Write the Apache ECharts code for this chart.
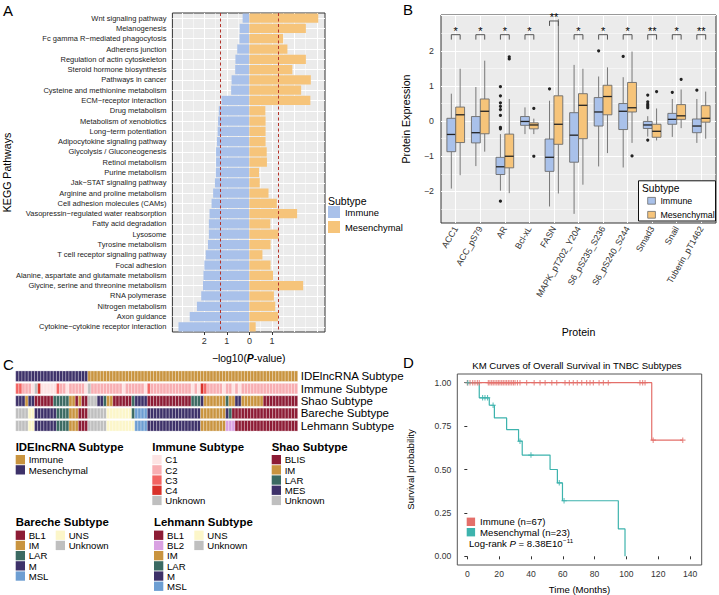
<!DOCTYPE html>
<html><head><meta charset="utf-8">
<script src="https://cdn.jsdelivr.net/npm/echarts@6/dist/echarts.min.js"></script>
<style>html,body{margin:0;padding:0;background:#fff}#c{width:719px;height:595px}</style>
</head><body><div id="c"></div><script>
const FF = '"Liberation Sans", Arial, Helvetica, sans-serif';

// ---------- Panel A data ----------
const keggPathways = ['Wnt signaling pathway','Melanogenesis','Fc gamma R\u2212mediated phagocytosis','Adherens junction','Regulation of actin cytoskeleton','Steroid hormone biosynthesis','Pathways in cancer','Cysteine and methionine metabolism','ECM\u2212receptor interaction','Drug metabolism','Metabolism of xenobiotics','Long\u2212term potentiation','Adipocytokine signaling pathway','Glycolysis / Gluconeogenesis','Retinol metabolism','Purine metabolism','Jak\u2212STAT signaling pathway','Arginine and proline metabolism','Cell adhesion molecules (CAMs)','Vasopressin\u2212regulated water reabsorption','Fatty acid degradation','Lysosome','Tyrosine metabolism','T cell receptor signaling pathway','Focal adhesion','Alanine, aspartate and glutamate metabolism','Glycine, serine and threonine metabolism','RNA polymerase','Nitrogen metabolism','Axon guidance','Cytokine\u2212cytokine receptor interaction'];
const keggImmune = [0.30,0.43,0.44,0.54,0.62,0.63,0.79,0.81,1.24,1.36,1.39,1.41,1.44,1.48,1.48,1.49,1.53,1.61,1.68,1.77,1.80,1.80,1.84,1.94,2.00,2.04,2.06,2.14,2.33,2.65,3.15];
const keggMesenchymal = [3.06,2.51,1.50,1.69,2.51,1.91,2.73,2.30,2.71,0.71,0.72,0.72,0.72,0.77,0.78,0.43,0.46,0.85,1.22,2.12,0.93,1.30,0.94,0.58,0.94,1.05,2.39,1.09,1.15,1.27,0.28];
const pCutoff = 1.301;
const keggTickLabels = [-2,-1,0,1];

// ---------- Panel B data ----------
const proteins = ['ACC1','ACC_pS79','AR','Bcl-xL','FASN','MAPK_pT202_Y204','S6_pS235_S236','S6_pS240_S244','Smad3','Snail','Tuberin_pT1462'];
// [min, Q1, median, Q3, max]
const boxImmune = [
 [-1.92,-0.87,-0.38,0.08,0.78],
 [-1.28,-0.62,-0.33,0.13,0.97],
 [-1.98,-1.52,-1.30,-1.03,-0.37],
 [-0.37,-0.12,-0.01,0.13,0.39],
 [-2.43,-1.43,-1.03,-0.51,0.58],
 [-2.64,-1.17,-0.40,0.24,1.60],
 [-1.29,-0.14,0.26,0.67,1.27],
 [-1.32,-0.24,0.28,0.50,1.25],
 [-0.44,-0.21,-0.11,-0.01,0.14],
 [-0.45,-0.09,0.05,0.22,0.63],
 [-0.62,-0.33,-0.14,0.06,0.63]];
const boxMesenchymal = [
 [-1.54,-0.61,0.18,0.40,1.49],
 [-0.87,-0.36,0.28,0.63,1.72],
 [-2.05,-1.33,-1.00,-0.37,0.63],
 [-0.37,-0.22,-0.11,-0.05,0.07],
 [-2.06,-0.66,-0.09,0.72,2.90],
 [-1.81,-0.50,0.45,0.78,1.49],
 [-0.91,0.18,0.70,1.02,1.53],
 [-0.62,0.26,0.38,1.10,1.98],
 [-0.55,-0.46,-0.29,-0.09,0.36],
 [-0.20,0.05,0.15,0.47,0.90],
 [-0.50,-0.03,0.08,0.44,0.84]];
const outlierImmune = [[2,0.98],[2,0.72],[2,0.52],[2,0.42],[2,0.33],[2,0.16],[2,-0.18],[2,-0.22],[2,-2.28],[4,0.92],[6,2.0],[7,1.84],[8,0.74],[8,0.55],[8,0.48],[8,0.43],[8,0.38],[8,-0.54],[9,0.82],[10,0.88]];
const outlierMesenchymal = [[2,1.83],[2,1.77],[3,0.36],[3,-1.0],[7,-0.99],[8,0.84],[9,1.19]];
const sigLabels = ['*','*','*','*','**','*','*','*','**','*','**'];
const bracketLevel = [2.46,2.46,2.46,2.46,2.85,2.46,2.46,2.46,2.46,2.46,2.46];
const proteinTickLabels = [-2,-1,0,1,2];

// ---------- Panel C data ----------
const heatRows = ['IDElncRNA Subtype','Immune Subtype','Shao Subtype','Bareche Subtype','Lehmann Subtype'];
const ideSubtype = [
'Mes','Mes','Mes','Mes','Mes','Mes','Mes','Mes','Mes','Mes',
'Mes','Mes','Mes','Mes','Mes','Mes','Mes','Mes','Mes','Mes',
'Mes','Mes','Mes','Imm','Imm','Imm','Imm','Imm','Imm','Imm',
'Imm','Imm','Imm','Imm','Imm','Imm','Imm','Imm','Imm','Imm',
'Imm','Imm','Imm','Imm','Imm','Imm','Imm','Imm','Imm','Imm',
'Imm','Imm','Imm','Imm','Imm','Imm','Imm','Imm','Imm','Imm',
'Imm','Imm','Imm','Imm','Imm','Imm','Imm','Imm','Imm','Imm',
'Imm','Imm','Imm','Imm','Imm','Imm','Imm','Imm','Imm','Imm',
'Imm','Imm','Imm','Imm','Imm','Imm','Imm','Imm','Imm','Imm'];
const immuneSubtype = [
'C3','C3','C2','C2','C2','C1','Unk','C4','C1','C1',
'C1','C1','C1','C3','C2','C2','C1','C2','C2','C2',
'C2','C2','C1','Unk','C2','C2','C2','C2','C2','C2',
'C2','C2','C2','C2','C1','C2','C2','C2','C2','C2',
'C2','C1','C3','C2','C2','C2','C2','C2','C2','C2',
'C2','C2','C2','C2','C2','C2','C1','C2','C1','C4',
'C3','C2','C2','C2','C2','C2','C1','C2','C2','C1',
'C2','C1','C2','C2','C2','C2','C2','C2','C2','C2',
'C2','C2','C2','C2','C2','C2','C2','C2','C2','C2'];
const shaoSubtype = [
'MES','MES','MES','IM','MES','MES','BLIS','BLIS','BLIS','BLIS',
'BLIS','BLIS','LAR','LAR','LAR','LAR','LAR','IM','IM','BLIS',
'IM','BLIS','BLIS','Unk','Unk','Unk','MES','MES','LAR','IM',
'IM','BLIS','BLIS','BLIS','BLIS','BLIS','BLIS','LAR','MES','MES',
'MES','MES','BLIS','BLIS','BLIS','BLIS','BLIS','BLIS','BLIS','BLIS',
'BLIS','BLIS','BLIS','BLIS','BLIS','BLIS','LAR','LAR','LAR','MES',
'IM','IM','IM','IM','IM','IM','IM','LAR','IM','IM',
'MES','MES','IM','IM','IM','IM','IM','IM','IM','BLIS',
'BLIS','BLIS','BLIS','BLIS','BLIS','BLIS','BLIS','BLIS','BLIS','BLIS'];
const barecheSubtype = [
'Unk','Unk','Unk','Unk','UNS','UNS','M','M','M','M',
'M','M','M','LAR','LAR','LAR','LAR','IM','IM','IM',
'BL1','BL1','BL1','Unk','Unk','Unk','Unk','Unk','Unk','UNS',
'UNS','UNS','UNS','UNS','UNS','UNS','UNS','LAR','MSL','MSL',
'MSL','MSL','M','M','M','M','M','M','M','M',
'M','M','M','M','M','M','M','M','M','IM',
'IM','IM','IM','IM','IM','IM','IM','M','LAR','BL1',
'BL1','BL1','BL1','BL1','BL1','BL1','BL1','BL1','BL1','BL1',
'BL1','BL1','BL1','BL1','BL1','BL1','BL1','BL1','BL1','BL1'];
const lehmannSubtype = [
'Unk','Unk','Unk','Unk','UNS','UNS','M','M','M','M',
'M','M','M','LAR','LAR','LAR','LAR','IM','IM','IM',
'BL1','BL1','BL1','Unk','Unk','Unk','Unk','Unk','Unk','UNS',
'UNS','UNS','UNS','UNS','UNS','UNS','UNS','UNS','MSL','MSL',
'MSL','MSL','M','M','M','M','M','M','M','M',
'M','M','M','M','M','M','M','M','M','IM',
'IM','IM','IM','IM','IM','IM','IM','BL2','BL2','BL2',
'BL1','BL1','BL1','BL1','BL1','BL1','BL1','BL1','BL1','BL1',
'BL1','BL1','BL1','BL1','BL1','BL1','BL1','BL1','BL1','BL1'];

// ---------- Panel D data ----------
const kmImmuneSteps = [[0,1],[115.9,0.669],[135.4,0.669]];
const kmMesSteps = [[0,1],[7.5,0.913],[13.8,0.87],[17.0,0.797],[24.7,0.73],[32.2,0.663],[34.5,0.583],[52.0,0.5],[56.6,0.423],[59.8,0.32],[94.9,0.158],[99.1,0]];
const kmImmuneCensor = [[0.0,1],[1.7,1],[3.4,1],[4.8,1],[6.3,1],[7.5,1],[13.2,1],[14.2,1],[15.3,1],[16.3,1],[17.4,1],[18.5,1],[19.5,1],[20.5,1],[21.6,1],[22.6,1],[23.7,1],[24.7,1],[25.8,1],[26.8,1],[27.9,1],[29.0,1],[30.0,1],[31.5,1],[33.1,1],[37.3,1],[42.0,1],[45.7,1],[48.9,1],[53.1,1],[56.2,1],[61.4,1],[64.1,1],[66.6,1],[69.1,1],[71.9,1],[75.0,1],[77.1,1],[79.2,1],[82.8,1],[85.5,1],[88.6,1],[108.5,1],[110.2,1],[111.7,1],[116.8,0.669],[135.4,0.669]];
const kmMesCensor = [[0.3,1],[9.6,0.913],[11.1,0.913],[12.7,0.913],[16.2,0.87],[33.1,0.663],[40.0,0.583],[57.8,0.423],[60.8,0.32]];
const timeTicks = [0,20,40,60,80,100,120,140];
const survTicks = [0,0.25,0.5,0.75,1];

// ---------- colours ----------
const colImmune = '#a9c1ea', colMes = '#f6c47a';
const colKmImm = '#e46f6a', colKmMes = '#3db3ad';
const heatPalette = [
 {Imm:'#c9943f', Mes:'#3d3169'},
 {C1:'#fde3e3', C2:'#f8aeb2', C3:'#f26462', C4:'#d8312a', Unk:'#bfbfbf'},
 {BLIS:'#8d1c35', IM:'#c9943f', LAR:'#3b6a62', MES:'#3d3169', Unk:'#bfbfbf'},
 {BL1:'#8d1c35', IM:'#c9943f', LAR:'#3b6a62', M:'#3d3169', MSL:'#6d9ed2', UNS:'#fcf6c9', Unk:'#bfbfbf'},
 {BL1:'#8d1c35', BL2:'#d9a1e2', IM:'#c9943f', LAR:'#3b6a62', M:'#3d3169', MSL:'#6d9ed2', UNS:'#fcf6c9', Unk:'#bfbfbf'}
];
const heatSeqs = [ideSubtype, immuneSubtype, shaoSubtype, barecheSubtype, lehmannSubtype];
const heatData = [];
heatSeqs.forEach((seq, ri) => seq.forEach((code, ci) => heatData.push([ci, ri, code])));

// ---------- helpers ----------
const W = {color:'#fff', width:1, type:'solid'};
const Wm = {color:'#fff', width:0.5, type:'solid'};
const gridA = [];
[-3,-2,-1,0,1,2,3].forEach(v => gridA.push({xAxis:v, lineStyle:W}));
[-2.5,-1.5,-0.5,0.5,1.5,2.5].forEach(v => gridA.push({xAxis:v, lineStyle:Wm}));
keggPathways.forEach((n,i) => gridA.push({yAxis:i, lineStyle:W}));
const gridB = [];
proteins.forEach((n,i) => gridB.push({xAxis:i, lineStyle:W}));
[-2,-1,0,1,2,3].forEach(v => gridB.push({yAxis:v, lineStyle:W}));
[-2.5,-1.5,-0.5,0.5,1.5,2.5].forEach(v => gridB.push({yAxis:v, lineStyle:Wm}));

function boxRender(offset, fill) {
  return function (params, api) {
    const i = api.value(0);
    const lo = api.value(1), q1 = api.value(2), md = api.value(3), q3 = api.value(4), hi = api.value(5);
    const bw = api.size([1, 0])[0];
    const cx = api.coord([i, 0])[0] + offset * bw;
    const hw = 0.18 * bw;
    const y = v => api.coord([i, v])[1];
    const ls = {stroke:'#6b6b6b', lineWidth:0.9};
    return {type:'group', children:[
      {type:'line', shape:{x1:cx, y1:y(hi), x2:cx, y2:y(q3)}, style:ls},
      {type:'line', shape:{x1:cx, y1:y(q1), x2:cx, y2:y(lo)}, style:ls},
      {type:'rect', shape:{x:cx-hw, y:y(q3), width:2*hw, height:y(q1)-y(q3)}, style:{fill:fill, stroke:'#6b6b6b', lineWidth:0.9}},
      {type:'line', shape:{x1:cx-hw, y1:y(md), x2:cx+hw, y2:y(md)}, style:{stroke:'#222', lineWidth:1.3}}
    ]};
  };
}
function outlierRender(offset) {
  return function (params, api) {
    const bw = api.size([1, 0])[0];
    const p = api.coord([api.value(0), api.value(1)]);
    return {type:'circle', shape:{cx:p[0] + offset*bw, cy:p[1], r:1.6}, style:{fill:'#222'}};
  };
}
function bracketRender(params, api) {
  const i = api.value(0), top = api.value(1);
  const bw = api.size([1, 0])[0];
  const cx = api.coord([i, top])[0];
  const yt = api.coord([i, top])[1];
  const yb = api.coord([i, top - 0.14])[1];
  const x1 = cx - 0.18*bw, x2 = cx + 0.18*bw;
  return {type:'group', children:[
    {type:'polyline', shape:{points:[[x1,yb],[x1,yt],[x2,yt],[x2,yb]]}, style:{stroke:'#555', lineWidth:1, fill:null}},
    {type:'text', style:{text:sigLabels[i], x:cx, y:yt-3.5, align:'center', verticalAlign:'middle', fontSize:11, fontFamily:FF, fill:'#000'}}
  ]};
}
const plusSym = 'path://M4,0h2v4h4v2h-4v4h-2v-4h-4v-2h4z';

// measure for superscript placement
const mctx = document.createElement('canvas').getContext('2d');
function tw(t, font) { mctx.font = font; return mctx.measureText(t).width; }
const lrX = 469, lrY = 543;
const lrW = tw('Log-rank ', '9.6px ' + FF) + tw('P', 'italic 9.6px ' + FF) + tw(' = 8.38E10', '9.6px ' + FF);

// C legends
const legendBlocks = [
 {title:'IDElncRNA Subtype', x:15.7, y:446.7, cols:[{x:15.7, items:[['Immune','#c9943f'],['Mesenchymal','#3d3169']]}]},
 {title:'Immune Subtype', x:152.3, y:446.7, cols:[{x:152.3, items:[['C1','#fde3e3'],['C2','#f8aeb2'],['C3','#f26462'],['C4','#d8312a'],['Unknown','#bfbfbf']]}]},
 {title:'Shao Subtype', x:271.7, y:446.7, cols:[{x:271.7, items:[['BLIS','#8d1c35'],['IM','#c9943f'],['LAR','#3b6a62'],['MES','#3d3169'],['Unknown','#bfbfbf']]}]},
 {title:'Bareche Subtype', x:15.7, y:522.3, cols:[{x:15.7, items:[['BL1','#8d1c35'],['IM','#c9943f'],['LAR','#3b6a62'],['M','#3d3169'],['MSL','#6d9ed2']]},{x:55.7, items:[['UNS','#fcf6c9'],['Unknown','#bfbfbf']]}]},
 {title:'Lehmann Subtype', x:154, y:522.3, cols:[{x:154, items:[['BL1','#8d1c35'],['BL2','#d9a1e2'],['IM','#c9943f'],['LAR','#3b6a62'],['M','#3d3169'],['MSL','#6d9ed2']]},{x:194.3, items:[['UNS','#fcf6c9'],['Unknown','#bfbfbf']]}]}
];
const graphics = [];
function txt(t, x, y, size, opts) {
  opts = opts || {};
  return {type:'text', x:0, y:0, z: opts.z || 10, style:Object.assign({text:t, x:x, y:y, fontSize:size, fontFamily:FF, fill:opts.fill || '#000',
    fontWeight:opts.weight || 'normal', align:opts.align || 'left', verticalAlign:opts.va || 'middle'}, opts.extra || {})};
}
legendBlocks.forEach(b => {
  graphics.push(txt(b.title, b.x, b.y, 11.4, {weight:'bold'}));
  b.cols.forEach(c => c.items.forEach((it, k) => {
    const top = b.y + 8.3 + k * 10.2;
    graphics.push({type:'rect', z:10, shape:{x:c.x, y:top, width:9.3, height:9.3}, style:{fill:it[1]}});
    graphics.push(txt(it[0], c.x + 13, top + 4.8, 9.6));
  }));
});
graphics.push(txt('A', 3, 10, 15));
graphics.push(txt('B', 403, 9, 15));
graphics.push(txt('C', 3, 364, 15));
graphics.push(txt('D', 403, 362, 15));
graphics.push(txt('Subtype', 328, 200.5, 10.5));
graphics.push({type:'rect', z:50, shape:{x:638.5, y:180.8, width:77, height:40.2}, style:{fill:'#fff', stroke:'#111', lineWidth:1}});
graphics.push(txt('Subtype', 642, 188, 10.2, {z:60}));
graphics.push(txt('KM Curves of Overall Survival in TNBC Subtypes', 577, 365.7, 9.6, {align:'center'}));
graphics.push({type:'text', z:10, style:{text:'{a|Log-rank }{i|P}{a| = 8.38E10}', x:lrX, y:lrY, align:'left', verticalAlign:'middle',
  rich:{a:{fontSize:9.6, lineHeight:10, fontFamily:FF, fill:'#000'}, i:{fontSize:9.6, lineHeight:10, fontFamily:FF, fontStyle:'italic', fill:'#000'}}}});
graphics.push(txt('\u221211', lrX + lrW + 0.5, lrY - 2.4, 6.2, {extra:{lineHeight:6.2}}));

const axisTxt = {fontFamily:FF, color:'#333'};
const option = {
  animation:false,
  textStyle:{fontFamily:FF},
  grid:[
    {left:157, top:13, width:168, height:319, show:true, backgroundColor:'#ebebeb', borderColor:'#333', borderWidth:1},
    {left:441, top:15, width:275, height:208, show:true, backgroundColor:'#ebebeb', borderColor:'#333', borderWidth:1},
    {left:15.7, top:370, width:282, height:62},
    {left:457.3, top:374, width:244.4, height:192.7, show:true, backgroundColor:'#fff', borderColor:'#555', borderWidth:1}
  ],
  xAxis:[
    {type:'value', gridIndex:0, min:-3.42, max:3.36, axisLine:{show:false}, splitLine:{show:false},
     axisTick:{show:true, length:3, customValues:keggTickLabels, lineStyle:{color:'#333'}},
     axisLabel:Object.assign({customValues:keggTickLabels, fontSize:9, margin:4, formatter:v => String(Math.abs(v))}, axisTxt),
     name:'\u2212log10({b|P}-value)', nameLocation:'middle', nameGap:21,
     nameTextStyle:{fontSize:10.4, color:'#000', fontFamily:FF, rich:{b:{fontSize:10.4, fontWeight:'bold', fontStyle:'italic', color:'#000', fontFamily:FF}}}},
    {type:'value', gridIndex:1, min:-0.6, max:10.6, axisLine:{show:false}, splitLine:{show:false},
     axisTick:{show:true, length:3, customValues:proteins.map((p,i)=>i), lineStyle:{color:'#333'}},
     axisLabel:Object.assign({customValues:proteins.map((p,i)=>i), rotate:60, fontSize:8.8, margin:4, formatter:v => proteins[Math.round(v)]}, axisTxt),
     name:'Protein', nameLocation:'middle', nameGap:103, nameTextStyle:{fontSize:10.6, color:'#000', fontFamily:FF}},
    {type:'category', gridIndex:2, data:ideSubtype.map((s,i)=>String(i)), show:false},
    {type:'value', gridIndex:3, min:-6.3, max:147.3, axisLine:{show:false}, splitLine:{show:false},
     axisTick:{show:true, length:3, customValues:timeTicks, lineStyle:{color:'#333'}},
     axisLabel:Object.assign({customValues:timeTicks, fontSize:8.6, margin:4}, axisTxt),
     name:'Time (Months)', nameLocation:'middle', nameGap:19, nameTextStyle:{fontSize:9.6, color:'#000', fontFamily:FF}}
  ],
  yAxis:[
    {type:'category', gridIndex:0, data:keggPathways, inverse:true, axisLine:{show:false}, splitLine:{show:false},
     axisTick:{show:true, length:3, alignWithLabel:true, lineStyle:{color:'#333'}},
     axisLabel:{fontSize:7.5, margin:6, interval:0, color:'#222', fontFamily:FF},
     name:'KEGG Pathways', nameLocation:'middle', nameGap:145, nameTextStyle:{fontSize:10.6, color:'#000', fontFamily:FF}},
    {type:'value', gridIndex:1, min:-2.9, max:3.02, axisLine:{show:false}, splitLine:{show:false},
     axisTick:{show:true, length:3, customValues:proteinTickLabels, lineStyle:{color:'#333'}},
     axisLabel:Object.assign({customValues:proteinTickLabels, fontSize:8.8, margin:7, formatter:v => v < 0 ? '\u2212' + Math.abs(v) : String(v)}, axisTxt),
     name:'Protein Expression', nameLocation:'middle', nameGap:30, nameTextStyle:{fontSize:10.6, color:'#000', fontFamily:FF}},
    {type:'category', gridIndex:2, data:heatRows, inverse:true, position:'right', axisLine:{show:false}, axisTick:{show:false}, splitLine:{show:false},
     axisLabel:{fontSize:11.5, margin:3, color:'#000', fontFamily:FF, interval:0}},
    {type:'value', gridIndex:3, min:-0.05, max:1.05, axisLine:{show:false}, splitLine:{show:false},
     axisTick:{show:true, length:3, customValues:survTicks, lineStyle:{color:'#333'}},
     axisLabel:Object.assign({customValues:survTicks, fontSize:8.6, margin:6, formatter:v => v.toFixed(2)}, axisTxt),
     name:'Survival probability', nameLocation:'middle', nameGap:42, nameTextStyle:{fontSize:9.6, color:'#000', fontFamily:FF}}
  ],
  legend:[
    {left:328, top:206, orient:'vertical', itemWidth:12, itemHeight:12, itemGap:3, icon:'rect', padding:0, selectedMode:false,
     textStyle:{fontSize:9.4, color:'#000', fontFamily:FF}, data:['Immune','Mesenchymal']},
    {left:647.3, top:196.3, orient:'vertical', itemWidth:7.7, itemHeight:6.8, itemGap:5, icon:'rect', padding:0, selectedMode:false, z:60,
     textStyle:{fontSize:8.8, color:'#000', fontFamily:FF},
     data:[{name:'Immune', itemStyle:{borderColor:'#6b6b6b', borderWidth:0.8}}, {name:'Mesenchymal', itemStyle:{borderColor:'#6b6b6b', borderWidth:0.8}}]},
    {left:466.7, top:516.8, orient:'vertical', itemWidth:8.4, itemHeight:8.4, itemGap:0.4, icon:'rect', padding:0, selectedMode:false,
     textStyle:{fontSize:9.6, lineHeight:9, color:'#000', fontFamily:FF}, data:['Immune (n=67)','Mesenchymal (n=23)']}
  ],
  graphic:{elements:graphics},
  series:[
    // A
    {type:'line', name:'gridA', xAxisIndex:0, yAxisIndex:0, data:[], silent:true,
     markLine:{z:1, silent:true, symbol:['none','none'], label:{show:false}, animation:false, data:gridA}},
    {type:'bar', name:'Immune', xAxisIndex:0, yAxisIndex:0, data:keggImmune.map(v => -v), barWidth:'90%', barGap:'-100%', z:2,
     itemStyle:{color:colImmune}},
    {type:'bar', name:'Mesenchymal', xAxisIndex:0, yAxisIndex:0, data:keggMesenchymal, barWidth:'90%', barGap:'-100%', z:2,
     itemStyle:{color:colMes},
     markLine:{z:5, silent:true, symbol:['none','none'], label:{show:false}, animation:false,
       lineStyle:{color:'#b5352c', width:1, type:[3,2.5]}, data:[{xAxis:-pCutoff},{xAxis:pCutoff}]}},
    // B
    {type:'line', name:'gridB', xAxisIndex:1, yAxisIndex:1, data:[], silent:true,
     markLine:{z:1, silent:true, symbol:['none','none'], label:{show:false}, animation:false, data:gridB}},
    {type:'custom', name:'Immune box', xAxisIndex:1, yAxisIndex:1, z:3, renderItem:boxRender(-0.18, colImmune),
     encode:{x:0, y:[1,2,3,4,5]}, data:boxImmune.map((b,i) => [i].concat(b))},
    {type:'custom', name:'Mesenchymal box', xAxisIndex:1, yAxisIndex:1, z:3, renderItem:boxRender(0.18, colMes),
     encode:{x:0, y:[1,2,3,4,5]}, data:boxMesenchymal.map((b,i) => [i].concat(b))},
    {type:'custom', name:'Immune outliers', xAxisIndex:1, yAxisIndex:1, z:4, renderItem:outlierRender(-0.18),
     encode:{x:0, y:1}, data:outlierImmune},
    {type:'custom', name:'Mesenchymal outliers', xAxisIndex:1, yAxisIndex:1, z:4, renderItem:outlierRender(0.18),
     encode:{x:0, y:1}, data:outlierMesenchymal},
    {type:'custom', name:'significance', xAxisIndex:1, yAxisIndex:1, z:4, renderItem:bracketRender, itemStyle:{color:'#111'},
     encode:{x:0, y:1}, data:bracketLevel.map((v,i) => [i, v])},
    // C
    {type:'custom', name:'heatmap', xAxisIndex:2, yAxisIndex:2, z:2,
     encode:{x:0, y:1}, data:heatData.map(d => [d[0], d[1]]),
     renderItem:function (params, api) {
       const d = heatData[params.dataIndex];
       const p = api.coord([api.value(0), api.value(1)]);
       const s = api.size([1, 1]);
       const h = s[1] * 0.85;
       return {type:'rect', shape:{x:p[0]-s[0]/2, y:p[1]-h/2, width:s[0], height:h},
               style:{fill:heatPalette[d[1]][d[2]], stroke:'rgba(255,255,255,0.55)', lineWidth:0.5}};
     }},
    // D
    {type:'line', name:'Immune (n=67)', xAxisIndex:3, yAxisIndex:3, step:'end', data:kmImmuneSteps, showSymbol:false, z:3,
     color:colKmImm, lineStyle:{color:colKmImm, width:1.2}},
    {type:'line', name:'Mesenchymal (n=23)', xAxisIndex:3, yAxisIndex:3, step:'end', data:kmMesSteps, showSymbol:false, z:3,
     color:colKmMes, lineStyle:{color:colKmMes, width:1.2}},
    {type:'scatter', name:'Immune censored', xAxisIndex:3, yAxisIndex:3, data:kmImmuneCensor, symbol:plusSym, symbolSize:5.5, z:4,
     itemStyle:{color:colKmImm}},
    {type:'scatter', name:'Mesenchymal censored', xAxisIndex:3, yAxisIndex:3, data:kmMesCensor, symbol:plusSym, symbolSize:5.5, z:4,
     itemStyle:{color:colKmMes}}
  ]
};
const chart = echarts.init(document.getElementById('c'), null, {renderer:'svg', width:719, height:595});
chart.setOption(option);
</script></body></html>
